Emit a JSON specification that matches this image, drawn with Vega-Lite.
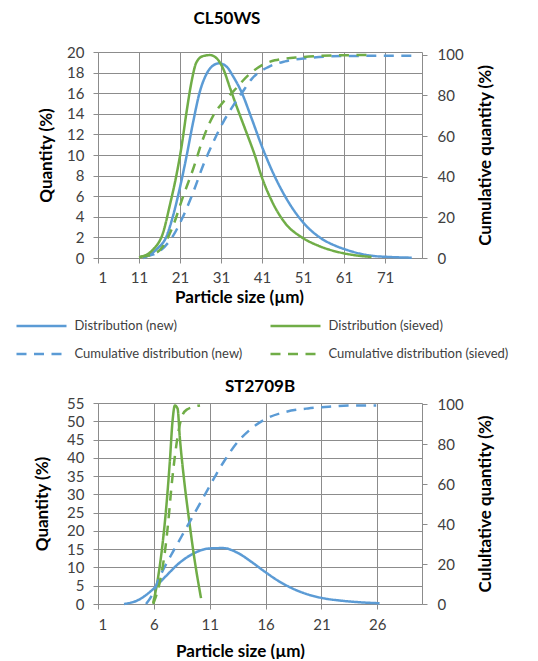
{
  "$schema": "https://vega.github.io/schema/vega-lite/v6.json",
  "autosize": {"type": "pad"},
  "padding": {"left": 15, "top": 10, "right": 0, "bottom": 0},
  "background": "white",
  "spacing": 73,
  "config": {
    "font": "Lato",
    "view": {"stroke": null},
    "axis": {
      "labelFont": "Lato", "labelFontSize": 15, "labelColor": "#404040",
      "titleFont": "Lato", "titleFontSize": 17, "titleFontWeight": "bold", "titleColor": "#000000",
      "gridColor": "#8c8c8c", "domainColor": "#8c8c8c", "tickColor": "#8c8c8c",
      "tickSize": 5, "labelPadding": 9, "gridWidth": 1
    },
    "title": {"font": "Lato", "fontSize": 17, "fontWeight": "bold", "color": "#000000", "frame": "group", "anchor": "middle"},
    "legend": {
      "labelFont": "Lato", "labelFontSize": 13, "labelColor": "#404040", "labelLimit": 300,
      "symbolType": "M-2,0H2", "symbolSize": 625, "symbolStrokeWidth": 2.5, "symbolOffset": 12.5,
      "rowPadding": 7, "columnPadding": 22, "labelOffset": 19, "padding": 0
    }
  },
  "datasets": {
    "d": [
      {"chart": "CL50WS", "series": "Distribution (new)", "size": 12, "value": 0},
      {"chart": "CL50WS", "series": "Distribution (new)", "size": 15.3, "value": 0.85},
      {"chart": "CL50WS", "series": "Distribution (new)", "size": 17.7, "value": 2.1},
      {"chart": "CL50WS", "series": "Distribution (new)", "size": 19.3, "value": 4.1},
      {"chart": "CL50WS", "series": "Distribution (new)", "size": 20.9, "value": 6.7},
      {"chart": "CL50WS", "series": "Distribution (new)", "size": 22.6, "value": 9.9},
      {"chart": "CL50WS", "series": "Distribution (new)", "size": 24.2, "value": 13.2},
      {"chart": "CL50WS", "series": "Distribution (new)", "size": 25.8, "value": 16.1},
      {"chart": "CL50WS", "series": "Distribution (new)", "size": 27.5, "value": 17.9},
      {"chart": "CL50WS", "series": "Distribution (new)", "size": 29.1, "value": 18.7},
      {"chart": "CL50WS", "series": "Distribution (new)", "size": 30.5, "value": 18.9},
      {"chart": "CL50WS", "series": "Distribution (new)", "size": 32.3, "value": 18.6},
      {"chart": "CL50WS", "series": "Distribution (new)", "size": 34.0, "value": 17.6},
      {"chart": "CL50WS", "series": "Distribution (new)", "size": 36.0, "value": 16.1},
      {"chart": "CL50WS", "series": "Distribution (new)", "size": 38.5, "value": 13.5},
      {"chart": "CL50WS", "series": "Distribution (new)", "size": 40.9, "value": 10.9},
      {"chart": "CL50WS", "series": "Distribution (new)", "size": 43.3, "value": 8.6},
      {"chart": "CL50WS", "series": "Distribution (new)", "size": 46.6, "value": 6.0},
      {"chart": "CL50WS", "series": "Distribution (new)", "size": 50.7, "value": 3.6},
      {"chart": "CL50WS", "series": "Distribution (new)", "size": 54.7, "value": 2.1},
      {"chart": "CL50WS", "series": "Distribution (new)", "size": 58.8, "value": 1.2},
      {"chart": "CL50WS", "series": "Distribution (new)", "size": 61.2, "value": 0.85},
      {"chart": "CL50WS", "series": "Distribution (new)", "size": 64.1, "value": 0.5},
      {"chart": "CL50WS", "series": "Distribution (new)", "size": 68.1, "value": 0.2},
      {"chart": "CL50WS", "series": "Distribution (new)", "size": 72, "value": 0.1},
      {"chart": "CL50WS", "series": "Distribution (new)", "size": 77.5, "value": 0.03},

      {"chart": "CL50WS", "series": "Distribution (sieved)", "size": 11, "value": 0.05},
      {"chart": "CL50WS", "series": "Distribution (sieved)", "size": 14.5, "value": 0.85},
      {"chart": "CL50WS", "series": "Distribution (sieved)", "size": 16.9, "value": 2.5},
      {"chart": "CL50WS", "series": "Distribution (sieved)", "size": 18.5, "value": 5.1},
      {"chart": "CL50WS", "series": "Distribution (sieved)", "size": 20.1, "value": 8.0},
      {"chart": "CL50WS", "series": "Distribution (sieved)", "size": 21.4, "value": 10.9},
      {"chart": "CL50WS", "series": "Distribution (sieved)", "size": 22.6, "value": 14.2},
      {"chart": "CL50WS", "series": "Distribution (sieved)", "size": 23.8, "value": 17.1},
      {"chart": "CL50WS", "series": "Distribution (sieved)", "size": 25.0, "value": 19.0},
      {"chart": "CL50WS", "series": "Distribution (sieved)", "size": 26.6, "value": 19.6},
      {"chart": "CL50WS", "series": "Distribution (sieved)", "size": 28.3, "value": 19.7},
      {"chart": "CL50WS", "series": "Distribution (sieved)", "size": 29.9, "value": 19.4},
      {"chart": "CL50WS", "series": "Distribution (sieved)", "size": 31.5, "value": 18.4},
      {"chart": "CL50WS", "series": "Distribution (sieved)", "size": 33.2, "value": 16.5},
      {"chart": "CL50WS", "series": "Distribution (sieved)", "size": 35.0, "value": 14.5},
      {"chart": "CL50WS", "series": "Distribution (sieved)", "size": 36.8, "value": 12.6},
      {"chart": "CL50WS", "series": "Distribution (sieved)", "size": 39.3, "value": 9.9},
      {"chart": "CL50WS", "series": "Distribution (sieved)", "size": 40.9, "value": 7.9},
      {"chart": "CL50WS", "series": "Distribution (sieved)", "size": 43.3, "value": 5.6},
      {"chart": "CL50WS", "series": "Distribution (sieved)", "size": 46.6, "value": 3.4},
      {"chart": "CL50WS", "series": "Distribution (sieved)", "size": 50.7, "value": 2.0},
      {"chart": "CL50WS", "series": "Distribution (sieved)", "size": 54.7, "value": 1.2},
      {"chart": "CL50WS", "series": "Distribution (sieved)", "size": 60.4, "value": 0.5},
      {"chart": "CL50WS", "series": "Distribution (sieved)", "size": 64, "value": 0.25},
      {"chart": "CL50WS", "series": "Distribution (sieved)", "size": 67.7, "value": 0.1},

      {"chart": "CL50WS", "series": "Cumulative distribution (new)", "size": 12.4, "value": 0.7},
      {"chart": "CL50WS", "series": "Cumulative distribution (new)", "size": 16.1, "value": 3.5},
      {"chart": "CL50WS", "series": "Cumulative distribution (new)", "size": 19.3, "value": 10.9},
      {"chart": "CL50WS", "series": "Cumulative distribution (new)", "size": 21.8, "value": 20.7},
      {"chart": "CL50WS", "series": "Cumulative distribution (new)", "size": 24.2, "value": 32.3},
      {"chart": "CL50WS", "series": "Cumulative distribution (new)", "size": 26.6, "value": 45.4},
      {"chart": "CL50WS", "series": "Cumulative distribution (new)", "size": 29.1, "value": 57},
      {"chart": "CL50WS", "series": "Cumulative distribution (new)", "size": 31.5, "value": 66.8},
      {"chart": "CL50WS", "series": "Cumulative distribution (new)", "size": 34.0, "value": 75.1},
      {"chart": "CL50WS", "series": "Cumulative distribution (new)", "size": 36.0, "value": 81},
      {"chart": "CL50WS", "series": "Cumulative distribution (new)", "size": 38.5, "value": 88.2},
      {"chart": "CL50WS", "series": "Cumulative distribution (new)", "size": 42.5, "value": 94},
      {"chart": "CL50WS", "series": "Cumulative distribution (new)", "size": 46.6, "value": 96.8},
      {"chart": "CL50WS", "series": "Cumulative distribution (new)", "size": 52.3, "value": 98.4},
      {"chart": "CL50WS", "series": "Cumulative distribution (new)", "size": 60.4, "value": 99.4},
      {"chart": "CL50WS", "series": "Cumulative distribution (new)", "size": 77.5, "value": 99.6},

      {"chart": "CL50WS", "series": "Cumulative distribution (sieved)", "size": 11.3, "value": 0.7},
      {"chart": "CL50WS", "series": "Cumulative distribution (sieved)", "size": 14.4, "value": 1.8},
      {"chart": "CL50WS", "series": "Cumulative distribution (sieved)", "size": 16.9, "value": 5.9},
      {"chart": "CL50WS", "series": "Cumulative distribution (sieved)", "size": 19.3, "value": 15.8},
      {"chart": "CL50WS", "series": "Cumulative distribution (sieved)", "size": 21.8, "value": 30.6},
      {"chart": "CL50WS", "series": "Cumulative distribution (sieved)", "size": 24.2, "value": 43.8},
      {"chart": "CL50WS", "series": "Cumulative distribution (sieved)", "size": 26.6, "value": 58.6},
      {"chart": "CL50WS", "series": "Cumulative distribution (sieved)", "size": 29.1, "value": 70.1},
      {"chart": "CL50WS", "series": "Cumulative distribution (sieved)", "size": 31.5, "value": 76.7},
      {"chart": "CL50WS", "series": "Cumulative distribution (sieved)", "size": 34.0, "value": 82},
      {"chart": "CL50WS", "series": "Cumulative distribution (sieved)", "size": 37.6, "value": 89.9},
      {"chart": "CL50WS", "series": "Cumulative distribution (sieved)", "size": 40.9, "value": 94.8},
      {"chart": "CL50WS", "series": "Cumulative distribution (sieved)", "size": 44.1, "value": 97.3},
      {"chart": "CL50WS", "series": "Cumulative distribution (sieved)", "size": 50.7, "value": 98.9},
      {"chart": "CL50WS", "series": "Cumulative distribution (sieved)", "size": 60.4, "value": 99.8},
      {"chart": "CL50WS", "series": "Cumulative distribution (sieved)", "size": 67.7, "value": 99.9},

      {"chart": "ST2709B", "series": "Distribution (new)", "size": 3.33, "value": 0},
      {"chart": "ST2709B", "series": "Distribution (new)", "size": 4.68, "value": 1.2},
      {"chart": "ST2709B", "series": "Distribution (new)", "size": 5.87, "value": 3.9},
      {"chart": "ST2709B", "series": "Distribution (new)", "size": 7.07, "value": 7.6},
      {"chart": "ST2709B", "series": "Distribution (new)", "size": 8.27, "value": 11.2},
      {"chart": "ST2709B", "series": "Distribution (new)", "size": 9.47, "value": 13.7},
      {"chart": "ST2709B", "series": "Distribution (new)", "size": 11, "value": 15.2},
      {"chart": "ST2709B", "series": "Distribution (new)", "size": 12.2, "value": 15.3},
      {"chart": "ST2709B", "series": "Distribution (new)", "size": 13.5, "value": 14},
      {"chart": "ST2709B", "series": "Distribution (new)", "size": 14.7, "value": 11.6},
      {"chart": "ST2709B", "series": "Distribution (new)", "size": 15.9, "value": 8.9},
      {"chart": "ST2709B", "series": "Distribution (new)", "size": 17.1, "value": 6.4},
      {"chart": "ST2709B", "series": "Distribution (new)", "size": 18.3, "value": 4.4},
      {"chart": "ST2709B", "series": "Distribution (new)", "size": 19.8, "value": 2.6},
      {"chart": "ST2709B", "series": "Distribution (new)", "size": 21.3, "value": 1.5},
      {"chart": "ST2709B", "series": "Distribution (new)", "size": 22.8, "value": 0.9},
      {"chart": "ST2709B", "series": "Distribution (new)", "size": 24.3, "value": 0.5},
      {"chart": "ST2709B", "series": "Distribution (new)", "size": 26.2, "value": 0.2},

      {"chart": "ST2709B", "series": "Distribution (sieved)", "size": 5.94, "value": 0.3},
      {"chart": "ST2709B", "series": "Distribution (sieved)", "size": 6.32, "value": 6.2},
      {"chart": "ST2709B", "series": "Distribution (sieved)", "size": 6.77, "value": 16.2},
      {"chart": "ST2709B", "series": "Distribution (sieved)", "size": 7.13, "value": 27.2},
      {"chart": "ST2709B", "series": "Distribution (sieved)", "size": 7.43, "value": 39},
      {"chart": "ST2709B", "series": "Distribution (sieved)", "size": 7.67, "value": 50},
      {"chart": "ST2709B", "series": "Distribution (sieved)", "size": 7.88, "value": 54.3},
      {"chart": "ST2709B", "series": "Distribution (sieved)", "size": 8.12, "value": 53.5},
      {"chart": "ST2709B", "series": "Distribution (sieved)", "size": 8.33, "value": 45.3},
      {"chart": "ST2709B", "series": "Distribution (sieved)", "size": 8.72, "value": 33.6},
      {"chart": "ST2709B", "series": "Distribution (sieved)", "size": 9.17, "value": 22.6},
      {"chart": "ST2709B", "series": "Distribution (sieved)", "size": 9.62, "value": 12.6},
      {"chart": "ST2709B", "series": "Distribution (sieved)", "size": 10.22, "value": 1.6},

      {"chart": "ST2709B", "series": "Cumulative distribution (new)", "size": 5.3, "value": 0},
      {"chart": "ST2709B", "series": "Cumulative distribution (new)", "size": 5.9, "value": 5},
      {"chart": "ST2709B", "series": "Cumulative distribution (new)", "size": 6.48, "value": 13},
      {"chart": "ST2709B", "series": "Cumulative distribution (new)", "size": 7.5, "value": 24},
      {"chart": "ST2709B", "series": "Cumulative distribution (new)", "size": 8.5, "value": 34},
      {"chart": "ST2709B", "series": "Cumulative distribution (new)", "size": 9.5, "value": 44},
      {"chart": "ST2709B", "series": "Cumulative distribution (new)", "size": 10.5, "value": 54},
      {"chart": "ST2709B", "series": "Cumulative distribution (new)", "size": 11.5, "value": 64},
      {"chart": "ST2709B", "series": "Cumulative distribution (new)", "size": 12.3, "value": 71.5},
      {"chart": "ST2709B", "series": "Cumulative distribution (new)", "size": 13.5, "value": 81},
      {"chart": "ST2709B", "series": "Cumulative distribution (new)", "size": 14.7, "value": 87.6},
      {"chart": "ST2709B", "series": "Cumulative distribution (new)", "size": 16, "value": 92.5},
      {"chart": "ST2709B", "series": "Cumulative distribution (new)", "size": 17.7, "value": 95.9},
      {"chart": "ST2709B", "series": "Cumulative distribution (new)", "size": 19.8, "value": 97.8},
      {"chart": "ST2709B", "series": "Cumulative distribution (new)", "size": 21.3, "value": 98.5},
      {"chart": "ST2709B", "series": "Cumulative distribution (new)", "size": 23.4, "value": 99.2},
      {"chart": "ST2709B", "series": "Cumulative distribution (new)", "size": 25.9, "value": 99.3},

      {"chart": "ST2709B", "series": "Cumulative distribution (sieved)", "size": 5.94, "value": 0},
      {"chart": "ST2709B", "series": "Cumulative distribution (sieved)", "size": 6.54, "value": 11.3},
      {"chart": "ST2709B", "series": "Cumulative distribution (sieved)", "size": 6.99, "value": 26.2},
      {"chart": "ST2709B", "series": "Cumulative distribution (sieved)", "size": 7.29, "value": 41.1},
      {"chart": "ST2709B", "series": "Cumulative distribution (sieved)", "size": 7.59, "value": 59.4},
      {"chart": "ST2709B", "series": "Cumulative distribution (sieved)", "size": 7.89, "value": 74.3},
      {"chart": "ST2709B", "series": "Cumulative distribution (sieved)", "size": 8.19, "value": 85.9},
      {"chart": "ST2709B", "series": "Cumulative distribution (sieved)", "size": 8.49, "value": 93.4},
      {"chart": "ST2709B", "series": "Cumulative distribution (sieved)", "size": 8.94, "value": 97.2},
      {"chart": "ST2709B", "series": "Cumulative distribution (sieved)", "size": 10.13, "value": 99.3}
    ]
  },
  "vconcat": [
    {
      "title": {"text": "CL50WS", "dx": -33, "offset": 17},
      "width": 324,
      "height": 206,
      "data": {"name": "d"},
      "transform": [{"filter": "datum.chart == 'CL50WS'"}],
      "encoding": {
        "x": {
          "field": "size", "type": "quantitative",
          "scale": {"domain": [1, 80], "nice": false, "zero": false},
          "axis": {"values": [1, 11, 21, 31, 41, 51, 61, 71], "title": "Particle size (µm)", "titleX": 141, "labelPadding": 7, "titlePadding": 4}
        },
        "color": {
          "field": "series", "type": "nominal",
          "scale": {"domain": ["Distribution (new)", "Cumulative distribution (new)", "Distribution (sieved)", "Cumulative distribution (sieved)"], "range": ["#5B9BD5", "#5B9BD5", "#70AD47", "#70AD47"]},
          "legend": {"title": null, "orient": "none", "legendX": -83, "legendY": 260, "columns": 2}
        },
        "strokeDash": {
          "field": "series", "type": "nominal",
          "scale": {"domain": ["Distribution (new)", "Cumulative distribution (new)", "Distribution (sieved)", "Cumulative distribution (sieved)"], "range": [[1, 0], [10, 7.5], [1, 0], [10, 7.5]]},
          "legend": {"title": null, "orient": "none", "legendX": -83, "legendY": 260, "columns": 2}
        }
      },
      "layer": [
        {
          "transform": [{"filter": "indexof(datum.series, 'Cumulative') < 0"}],
          "mark": {"type": "line", "strokeWidth": 2.5, "interpolate": "monotone"},
          "encoding": {
            "y": {
              "field": "value", "type": "quantitative",
              "scale": {"domain": [0, 20], "nice": false},
              "axis": {"values": [0, 2, 4, 6, 8, 10, 12, 14, 16, 18, 20], "title": "Quantity (%)", "labelPadding": 9, "titlePadding": 11}
            }
          }
        },
        {
          "transform": [{"filter": "indexof(datum.series, 'Cumulative') >= 0"}],
          "mark": {"type": "line", "strokeWidth": 2.5, "interpolate": "monotone"},
          "encoding": {
            "y": {
              "field": "value", "type": "quantitative",
              "scale": {"domain": [0, 101.4], "nice": false},
              "axis": {"orient": "right", "values": [0, 20, 40, 60, 80, 100], "grid": false, "title": "Cumulative quantity (%)", "titleAngle": 270, "titleBaseline": "top", "labelPadding": 10, "titlePadding": 14}
            }
          }
        }
      ],
      "resolve": {"scale": {"y": "independent"}}
    },
    {
      "title": {"text": "ST2709B", "offset": 0},
      "width": 324,
      "height": 201,
      "data": {"name": "d"},
      "transform": [{"filter": "datum.chart == 'ST2709B'"}],
      "encoding": {
        "x": {
          "field": "size", "type": "quantitative",
          "scale": {"domain": [1, 30], "nice": false, "zero": false},
          "axis": {"values": [1, 6, 11, 16, 21, 26], "title": "Particle size (µm)", "titleX": 142, "labelPadding": 8, "titlePadding": 11}
        },
        "color": {
          "field": "series", "type": "nominal",
          "scale": {"domain": ["Distribution (new)", "Cumulative distribution (new)", "Distribution (sieved)", "Cumulative distribution (sieved)"], "range": ["#5B9BD5", "#5B9BD5", "#70AD47", "#70AD47"]},
          "legend": {"title": null, "orient": "none", "legendX": -83, "legendY": 260, "columns": 2}
        },
        "strokeDash": {
          "field": "series", "type": "nominal",
          "scale": {"domain": ["Distribution (new)", "Cumulative distribution (new)", "Distribution (sieved)", "Cumulative distribution (sieved)"], "range": [[1, 0], [10, 7.5], [1, 0], [10, 7.5]]},
          "legend": {"title": null, "orient": "none", "legendX": -83, "legendY": 260, "columns": 2}
        }
      },
      "layer": [
        {
          "transform": [{"filter": "indexof(datum.series, 'Cumulative') < 0"}],
          "mark": {"type": "line", "strokeWidth": 2.5, "interpolate": "monotone"},
          "encoding": {
            "y": {
              "field": "value", "type": "quantitative",
              "scale": {"domain": [0, 55], "nice": false},
              "axis": {"values": [0, 5, 10, 15, 20, 25, 30, 35, 40, 45, 50, 55], "title": "Quantity (%)", "labelPadding": 9, "titlePadding": 15}
            }
          }
        },
        {
          "transform": [{"filter": "indexof(datum.series, 'Cumulative') >= 0"}],
          "mark": {"type": "line", "strokeWidth": 2.5, "interpolate": "monotone"},
          "encoding": {
            "y": {
              "field": "value", "type": "quantitative",
              "scale": {"domain": [0, 100.5], "nice": false},
              "axis": {"orient": "right", "values": [0, 20, 40, 60, 80, 100], "grid": false, "title": "Culultative quantity (%)", "titleAngle": 270, "titleBaseline": "top", "labelPadding": 10, "titlePadding": 14}
            }
          }
        }
      ],
      "resolve": {"scale": {"y": "independent"}}
    }
  ]
}
